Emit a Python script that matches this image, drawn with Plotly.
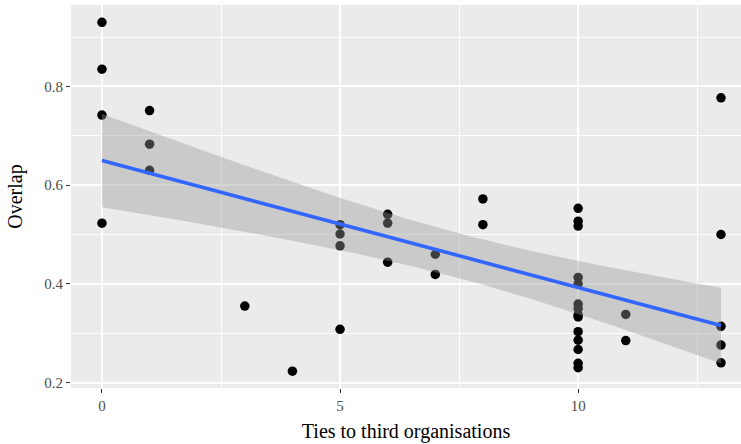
import numpy as np
import plotly.graph_objects as go

# Data
ties = [0, 0, 0, 0,
        1, 1, 1,
        3, 4,
        5, 5, 5, 5,
        6, 6, 6,
        7, 7,
        8, 8,
        10, 10, 10, 10, 10, 10, 10, 10, 10, 10, 10, 10, 10, 10,
        11, 11,
        13, 13, 13, 13, 13]
overlap = [0.930, 0.835, 0.742, 0.523,
           0.751, 0.683, 0.630,
           0.355, 0.223,
           0.520, 0.501, 0.477, 0.308,
           0.541, 0.523, 0.444,
           0.460, 0.419,
           0.572, 0.520,
           0.553, 0.527, 0.517, 0.413, 0.400, 0.359, 0.350, 0.337, 0.333,
           0.303, 0.286, 0.267, 0.239, 0.230,
           0.338, 0.285,
           0.777, 0.500, 0.314, 0.276, 0.240]

x_ticks = [0, 5, 10]
y_ticks = [0.2, 0.4, 0.6, 0.8]
y_tick_labels = ["0.2", "0.4", "0.6", "0.8"]

# Linear model with 95% confidence band (like geom_smooth(method="lm"))
xa = np.array(ties, dtype=float)
ya = np.array(overlap, dtype=float)
n = len(xa)
slope, intercept = np.polyfit(xa, ya, 1)
resid = ya - (intercept + slope * xa)
s = np.sqrt(np.sum(resid ** 2) / (n - 2))
xbar = xa.mean()
sxx = np.sum((xa - xbar) ** 2)
t_crit = 2.024  # t(0.975, df ~ 38)
xs = np.linspace(xa.min(), xa.max(), 80)
fit = intercept + slope * xs
se = s * np.sqrt(1.0 / n + (xs - xbar) ** 2 / sxx)
upper = fit + t_crit * se
lower = fit - t_crit * se

fig = go.Figure()
fig.add_trace(go.Scatter(x=ties, y=overlap, mode="markers",
                         marker=dict(color="black", size=9.5),
                         showlegend=False, hoverinfo="x+y"))
fig.add_trace(go.Scatter(x=np.concatenate([xs, xs[::-1]]),
                         y=np.concatenate([upper, lower[::-1]]),
                         fill="toself", fillcolor="rgba(153,153,153,0.4)",
                         line=dict(width=0), mode="lines",
                         showlegend=False, hoverinfo="skip"))
fig.add_trace(go.Scatter(x=xs, y=fit, mode="lines",
                         line=dict(color="#3366FF", width=3.6),
                         showlegend=False))

font_family = "Liberation Serif, DejaVu Serif, serif"
fig.update_layout(
    width=741, height=444,
    margin=dict(l=71, r=0, t=5, b=56),
    paper_bgcolor="white",
    plot_bgcolor="#EBEBEB",
    font=dict(family=font_family, color="black"),
    xaxis=dict(
        range=[-0.65, 13.42],
        automargin=False,
        tickvals=x_ticks, ticktext=[str(v) for v in x_ticks],
        showgrid=True, gridcolor="white", gridwidth=1.6,
        minor=dict(tickvals=[2.5, 7.5, 12.5], showgrid=True,
                   gridcolor="white", gridwidth=0.8, ticklen=0),
        zeroline=False, showline=False,
        ticks="outside", ticklen=4, tickwidth=1.2, tickcolor="#333333",
        tickfont=dict(size=15, color="#4D4D4D", family=font_family),
        title=dict(text="Ties to third organisations",
                   font=dict(size=20, color="black", family=font_family),
                   standoff=10),
    ),
    yaxis=dict(
        range=[0.189, 0.965],
        automargin=False,
        tickvals=y_ticks, ticktext=y_tick_labels,
        showgrid=True, gridcolor="white", gridwidth=1.6,
        minor=dict(tickvals=[0.3, 0.5, 0.7, 0.9], showgrid=True,
                   gridcolor="white", gridwidth=0.8, ticklen=0),
        zeroline=False, showline=False,
        ticks="outside", ticklen=4, tickwidth=1.2, tickcolor="#333333",
        tickfont=dict(size=15, color="#4D4D4D", family=font_family),
        title=dict(text="Overlap",
                   font=dict(size=20, color="black", family=font_family),
                   standoff=16),
    ),
)

fig.write_html("out.html",
               config={"displayModeBar": False},
               post_script="document.body.style.margin='0';document.body.style.overflow='hidden';")
